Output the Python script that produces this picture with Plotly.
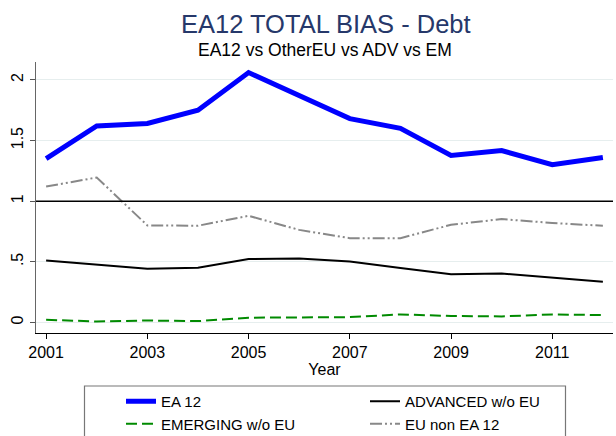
import plotly.graph_objects as go

years = list(range(2001, 2013))
ea12 = [1.35, 1.62, 1.64, 1.75, 2.06, 1.875, 1.68, 1.60, 1.376, 1.417, 1.30, 1.36]
advanced = [0.51, 0.475, 0.442, 0.45, 0.522, 0.527, 0.503, 0.448, 0.398, 0.404, 0.371, 0.335]
emerging = [0.022, 0.008, 0.016, 0.011, 0.039, 0.044, 0.044, 0.066, 0.053, 0.05, 0.066, 0.061]
eu_non_ea12 = [1.12, 1.195, 0.80, 0.797, 0.879, 0.763, 0.695, 0.695, 0.805, 0.852, 0.82, 0.797]

x_ticks = [2001, 2003, 2005, 2007, 2009, 2011]
y_ticks = [0, 0.5, 1, 1.5, 2]
y_ticktext = ["0", ".5", "1", "1.5", "2"]

FONT = "Liberation Sans, Arial, sans-serif"

W, H = 616, 436
# plot area in pixels
L, R, T, B = 36, 613, 62, 333
PH = B - T

def py(p):
    return (B - p) / PH

def px(p):
    return (p - L) / (R - L)

fig = go.Figure()
fig.add_trace(go.Scatter(x=years, y=ea12, mode="lines", name="EA 12",
                         line=dict(color="#0000ff", width=5)))
fig.add_trace(go.Scatter(x=years, y=advanced, mode="lines", name="ADVANCED w/o EU",
                         line=dict(color="#000000", width=2)))
fig.add_trace(go.Scatter(x=years, y=emerging, mode="lines", name="EMERGING w/o EU",
                         line=dict(color="#008a00", width=2, dash="11px,5px")))
fig.add_trace(go.Scatter(x=years, y=eu_non_ea12, mode="lines", name="EU non EA 12",
                         line=dict(color="#888888", width=2, dash="12px,3px,2px,3px,2px,3px")))

fig.add_hline(y=1, line=dict(color="#000000", width=1.5), layer="above")

# legend frame (extends past the bottom edge like the reference)
fig.add_shape(type="rect", xref="paper", yref="paper",
              x0=px(84.5), x1=px(565.5), y0=py(445), y1=py(386),
              line=dict(color="#777777", width=1.2), fillcolor="rgba(0,0,0,0)", layer="above")

fig.add_annotation(text="EA12 TOTAL BIAS - Debt", xref="paper", yref="paper",
                   x=px(325.5), y=py(24), xanchor="center", yanchor="middle",
                   showarrow=False, font=dict(family=FONT, size=25.5, color="#26386a"))
fig.add_annotation(text="EA12 vs OtherEU vs ADV vs EM", xref="paper", yref="paper",
                   x=px(325), y=py(50), xanchor="center", yanchor="middle",
                   showarrow=False, font=dict(family=FONT, size=17.5, color="#000000"))

fig.update_layout(
    width=W, height=H,
    margin=dict(l=L, r=W - R, t=T, b=H - B),
    paper_bgcolor="white", plot_bgcolor="white",
    font=dict(family=FONT, size=15, color="#000000"),
    showlegend=True,
    legend=dict(
        orientation="h", xref="container", yref="container",
        x=121 / W, xanchor="left", y=(H - 385) / H, yanchor="top",
        entrywidth=199, entrywidthmode="pixels",
        borderwidth=0, bgcolor="rgba(0,0,0,0)",
        font=dict(family=FONT, size=15), tracegroupgap=0,
    ),
)

fig.update_xaxes(
    range=[2000.8, 2012.2], tickvals=x_ticks, ticks="outside", ticklen=5,
    tickcolor="#000000", showline=True, linecolor="#000000", linewidth=1.3,
    showgrid=False, zeroline=False,
    title=dict(text="Year", standoff=0, font=dict(size=16)),
    tickfont=dict(size=16),
)
fig.update_yaxes(
    range=[-0.087, 2.147], tickvals=y_ticks, ticktext=y_ticktext, tickangle=-90,
    ticks="outside", ticklen=5, tickcolor="#555555",
    showline=True, linecolor="#666666", linewidth=1.3,
    showgrid=True, gridcolor="#e6eeee", gridwidth=1, zeroline=False,
    tickfont=dict(size=16),
)

fig.write_html(
    "out.html",
    config={"displayModeBar": False},
    post_script="document.body.style.margin='0';document.body.style.overflow='hidden';",
)
